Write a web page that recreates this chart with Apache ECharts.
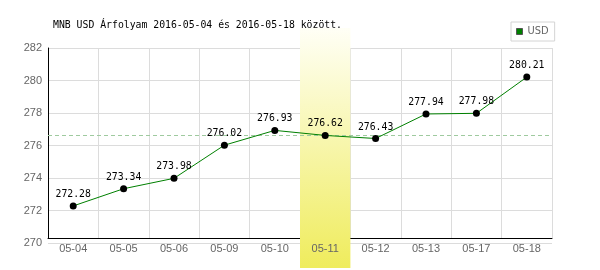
<!DOCTYPE html>
<html>
<head>
<meta charset="utf-8">
<script src="https://cdn.jsdelivr.net/npm/echarts@6/dist/echarts.min.js"></script>
<style>
html,body{margin:0;padding:0;background:#fff;}
#c{width:600px;height:270px;}
</style>
</head>
<body>
<div id="c"></div>
<script>
var categories = ['05-04','05-05','05-06','05-09','05-10','05-11','05-12','05-13','05-17','05-18'];
var usdValues = [272.28, 273.34, 273.98, 276.02, 276.93, 276.62, 276.43, 277.94, 277.98, 280.21];
var highlightBand = [null, null, null, null, null, 1, null, null, null, null];
var referenceValue = 276.62;
var yTicks = { min: 270, max: 282, interval: 2 };
var titleText = 'MNB USD Árfolyam 2016-05-04 és 2016-05-18 között.';
var seriesName = 'USD';

var chart = echarts.init(document.getElementById('c'), null, { renderer: 'canvas' });
var mono = 'DejaVu Sans Mono';
var sans = 'Liberation Sans';

chart.setOption({
  animation: false,
  backgroundColor: '#fff',
  title: {
    text: titleText,
    left: 53, top: 20, padding: 0,
    textStyle: { fontFamily: mono, fontSize: 9.8, fontWeight: 'normal', color: '#000' }
  },
  legend: {
    data: [{ name: seriesName, icon: 'rect', itemStyle: { color: '#008000', borderColor: '#555', borderWidth: 1 } }],
    left: 511, top: 22,
    padding: [4, 6, 4, 5],
    borderColor: '#d4d4d4', borderWidth: 1,
    itemWidth: 6, itemHeight: 6,
    textStyle: { fontFamily: 'Liberation Sans Narrow, DejaVu Sans Condensed, Liberation Sans', fontSize: 11, color: '#666' },
    selectedMode: false
  },
  grid: [
    { left: 48, right: 48, top: 48, bottom: 27 },
    { left: 48, right: 48, top: 48, bottom: 32 },
    { left: 48, right: 48, top: 28, bottom: 2 }
  ],
  xAxis: [
    { gridIndex: 0, type: 'category', data: categories, show: false },
    { gridIndex: 1, type: 'category', data: categories, z: 0, position: 'bottom',
      axisLine: { show: true, onZero: false, lineStyle: { color: '#000', width: 1 } },
      axisTick: { show: false }, axisLabel: { show: false },
      splitLine: { show: true, lineStyle: { color: '#dcdcdc', width: 1 } } },
    { gridIndex: 1, type: 'category', data: categories, z: 10, position: 'bottom',
      axisLine: { show: false, onZero: false }, axisTick: { show: false },
      axisLabel: { show: true, margin: 5, color: '#666', fontFamily: sans, fontSize: 11 },
      splitLine: { show: false } },
    { gridIndex: 2, type: 'category', data: categories, show: false }
  ],
  yAxis: [
    { gridIndex: 0, type: 'value', min: yTicks.min, max: yTicks.max, interval: yTicks.interval,
      axisLine: { show: false }, axisTick: { show: false },
      axisLabel: { margin: 6, color: '#666', fontFamily: sans, fontSize: 11 },
      splitLine: { show: true, lineStyle: { color: '#dcdcdc', width: 1 } } },
    { gridIndex: 1, type: 'value', min: 0, max: 1, position: 'left', z: 3,
      axisLine: { show: true, onZero: false, lineStyle: { color: '#000', width: 1 } },
      axisTick: { show: false }, axisLabel: { show: false }, splitLine: { show: false } },
    { gridIndex: 2, type: 'value', min: 0, max: 1, show: false }
  ],
  series: [
    {
      type: 'line', xAxisIndex: 0, yAxisIndex: 0, data: [], z: 1, silent: true,
      markLine: {
        silent: true, symbol: 'none', label: { show: false },
        lineStyle: { color: '#9fca9f', type: [4, 3], width: 1 },
        data: [{ yAxis: referenceValue }]
      }
    },
    {
      type: 'bar', xAxisIndex: 3, yAxisIndex: 2, data: highlightBand, z: 2, silent: true,
      barWidth: '100%', barGap: '0%',
      itemStyle: {
        color: new echarts.graphic.LinearGradient(0, 0, 0, 1, [
          { offset: 0, color: '#fffff6' },
          { offset: 1, color: '#efec5c' }
        ])
      }
    },
    {
      name: seriesName, type: 'line', xAxisIndex: 0, yAxisIndex: 0, data: usdValues, z: 5,
      symbol: 'circle', symbolSize: 7,
      lineStyle: { color: '#008000', width: 1 },
      itemStyle: { color: '#000' },
      label: { show: true, position: 'top', distance: 3, color: '#000', fontFamily: mono, fontSize: 9.8,
        formatter: function (p) { return p.value.toFixed(2); } }
    }
  ]
});
</script>
</body>
</html>
